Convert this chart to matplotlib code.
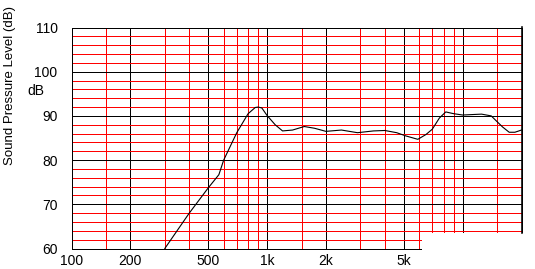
import numpy as np
import matplotlib
matplotlib.use('Agg')
import matplotlib.pyplot as plt
from matplotlib.patches import Rectangle
from matplotlib.lines import Line2D

# response curve
freq_hz = [300, 400, 500, 567, 600, 700, 800, 870, 900, 940, 1000, 1100, 1200,
           1350, 1550, 1750, 2000, 2400, 2900, 3500, 4000, 4600, 5100, 5900,
           6500, 7000, 7600, 8200, 9000, 10000, 12500, 14000, 15000, 16000,
           17300, 18500, 20000]
spl_db = [60, 68, 73.7, 76.7, 80, 86.2, 90.5, 91.9, 92.0, 91.8, 90.1, 88.0, 86.6,
          86.8, 87.6, 87.2, 86.5, 86.8, 86.2, 86.6, 86.7, 86.2, 85.5, 84.7,
          85.8, 87.0, 89.5, 90.9, 90.5, 90.2, 90.4, 90.0, 88.7, 87.5,
          86.3, 86.3, 86.8]

x_major = [100, 200, 500, 1000, 2000, 5000, 10000]
x_labels = ['100', '200', '500', '1k', '2k', '5k', '']
x_minor = [150, 300, 400, 600, 700, 800, 900, 1500, 3000, 4000,
           6000, 7000, 8000, 9000, 15000]
y_major = [60, 70, 80, 90, 100, 110]

plt.rcParams['font.family'] = ['Liberation Sans', 'DejaVu Sans']

W, H = 535, 269
px = 72 / 100  # one pixel in points
fig = plt.figure(figsize=(W / 100, H / 100), dpi=100)
ax = fig.add_axes([71.5 / W, 1 - 248.5 / H, (521.5 - 71.5) / W, (248.5 - 27.5) / H])

ax.set_xscale('log')
ax.set_xlim(100, 20000)
ax.set_ylim(60, 110)

ax.set_xticks(x_major)
ax.set_xticklabels(x_labels)
ax.set_xticks(x_minor, minor=True)
ax.set_xticklabels([''] * len(x_minor), minor=True)
ax.set_yticks(y_major)
ax.set_yticks(np.arange(62, 110, 2), minor=True)

ax.tick_params(which='both', length=0, labelsize=10)
ax.tick_params(axis='y', pad=10)
ax.tick_params(axis='x', pad=4)

ax.grid(which='minor', color='#ff0000', linewidth=px, snap=True)
ax.grid(which='major', color='black', linewidth=px, snap=True)
ax.set_axisbelow(True)
for s in ax.spines.values():
    s.set_color('black')
    s.set_linewidth(px)
    s.set_snap(True)

ax.plot(freq_hz, spl_db, color='black', linewidth=0.8, zorder=3)

fig.text(10.5 / W, 1 - 86 / H, 'Sound Pressure Level (dB)', rotation=90,
         ha='center', va='center', fontsize=9.5)
fig.text(27 / W, 1 - 91 / H, 'dB', ha='left', va='center', fontsize=10)

# blank corner at bottom right, as in the source image
fig.patches.append(Rectangle((422 / W, 0), 1, 1 - 233 / H, transform=fig.transFigure,
                             facecolor='white', edgecolor='none', zorder=10))

# right edge of the frame, drawn at figure level above everything
fig.lines.append(Line2D([521.5 / W, 521.5 / W], [1 - 232.5 / H, 1 - 27 / H],
                        transform=fig.transFigure, color='black',
                        linewidth=px * 1.6, zorder=11))

fig.savefig('out.png', dpi=100)
